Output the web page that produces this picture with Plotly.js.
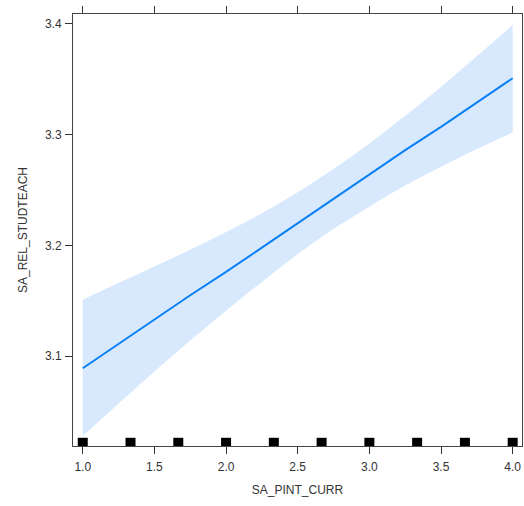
<!DOCTYPE html>
<html>
<head>
<meta charset="utf-8">
<script src="https://cdn.plot.ly/plotly-3.0.1.min.js"></script>
<style>html,body{margin:0;padding:0;background:#fff;}#chart{width:524px;height:506px;}</style>
</head>
<body>
<div id="chart"></div>
<script>
var xGrid = [1, 1.25, 1.5, 1.75, 2, 2.25, 2.5, 2.75, 3, 3.25, 3.5, 3.75, 4];
var fitValues = [3.089, 3.111, 3.133, 3.155, 3.176, 3.198, 3.220, 3.242, 3.264, 3.286, 3.307, 3.329, 3.351];
var upperValues = [3.151, 3.166, 3.181, 3.196, 3.212, 3.229, 3.248, 3.269, 3.292, 3.317, 3.343, 3.371, 3.399];
var lowerValues = [3.028, 3.057, 3.086, 3.114, 3.141, 3.167, 3.192, 3.215, 3.235, 3.254, 3.271, 3.287, 3.302];
var rugX = [1, 1.3333, 1.6667, 2, 2.3333, 2.6667, 3, 3.3333, 3.6667, 4];
var rugLevel = 3.0217;
var xTicks = [1.0, 1.5, 2.0, 2.5, 3.0, 3.5, 4.0];
var xTickText = ['1.0', '1.5', '2.0', '2.5', '3.0', '3.5', '4.0'];
var yTicks = [3.1, 3.2, 3.3, 3.4];
var yTickText = ['3.1', '3.2', '3.3', '3.4'];

var edgeLine = {width: 0, color: 'rgba(0,0,0,0)', shape: 'spline', smoothing: 0.8};
var traces = [
  {x: xGrid, y: lowerValues, type: 'scatter', mode: 'lines', line: edgeLine, hoverinfo: 'skip'},
  {x: xGrid, y: upperValues, type: 'scatter', mode: 'lines', line: edgeLine,
   fill: 'tonexty', fillcolor: '#d8e9fd', hoverinfo: 'skip'},
  {x: xGrid, y: fitValues, type: 'scatter', mode: 'lines',
   line: {color: '#0a80f5', width: 2}},
  {x: rugX, y: rugX.map(function(){return rugLevel;}), type: 'scatter', mode: 'markers',
   marker: {symbol: 'square', size: 10, color: '#000'}, cliponaxis: true}
];

var font = {family: 'Liberation Sans, Arial, sans-serif', size: 12, color: '#333'};
var layout = {
  width: 524, height: 506,
  margin: {l: 73, r: 2, t: 14, b: 60},
  paper_bgcolor: '#fff', plot_bgcolor: '#fff',
  showlegend: false,
  font: font,
  xaxis: {
    range: [0.932, 4.065], tickvals: xTicks, ticktext: xTickText,
    ticks: 'outside', ticklen: 7, tickcolor: '#333', tickwidth: 1,
    showline: true, linecolor: '#444', linewidth: 1, mirror: 'ticks',
    showgrid: false, zeroline: false, tickfont: font, ticklabelstandoff: 3,
    title: {text: 'SA_PINT_CURR', font: font, standoff: 12}
  },
  yaxis: {
    range: [3.0188, 3.409], tickvals: yTicks, ticktext: yTickText,
    ticks: 'outside', ticklen: 7, tickcolor: '#333', tickwidth: 1,
    showline: true, linecolor: '#444', linewidth: 1, mirror: true,
    showgrid: false, zeroline: false, tickfont: font, ticklabelstandoff: 1,
    title: {text: 'SA_REL_STUDTEACH', font: font, standoff: 14}
  }
};
Plotly.newPlot('chart', traces, layout, {displayModeBar: false, staticPlot: true});
</script>
</body>
</html>
